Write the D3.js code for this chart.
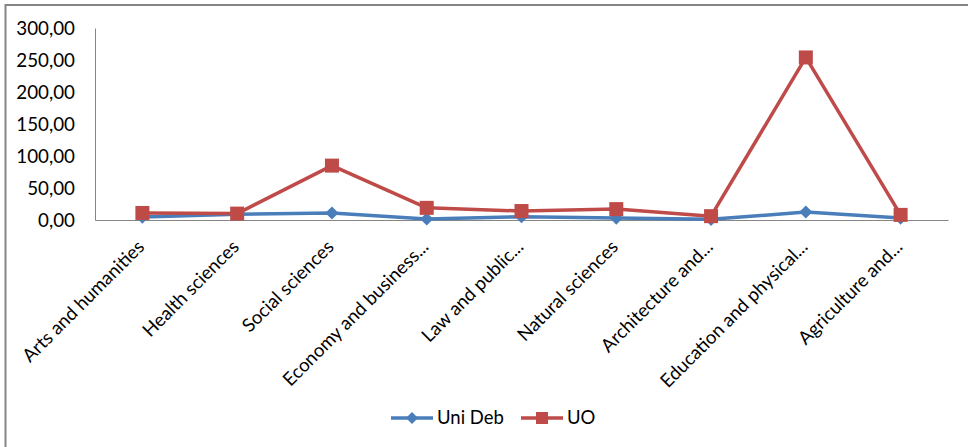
<!DOCTYPE html>
<html><head><meta charset="utf-8">
<script src="https://d3js.org/d3.v7.min.js"></script>
<style>body{margin:0;background:#fff}svg{display:block}text{font-family:Lato,"Open Sans",sans-serif;fill:#000}</style>
</head><body><svg id="c" width="968" height="447"></svg>
<script>
const categories = ["Arts and humanities","Health sciences","Social sciences","Economy and business...","Law and public...","Natural sciences","Architecture and...","Education and physical...","Agriculture and..."];
const uniDeb = [4.5, 9, 11, 1.5, 5, 3, 1, 12.5, 3];
const uo = [11, 10, 85, 19, 14, 17, 6, 254, 8];
const yTicks = [0, 50, 100, 150, 200, 250, 300];
const seriesNames = ["Uni Deb", "UO"];
const colors = ["#4a7ebb", "#be4b48"];

const svg = d3.select("#c");
// frame (left and top only)
svg.append("line").attr("x1",5.5).attr("x2",5.5).attr("y1",4).attr("y2",447).attr("stroke","#858585").attr("stroke-width",2);
svg.append("line").attr("x1",5).attr("x2",968).attr("y1",5).attr("y2",5).attr("stroke","#858585").attr("stroke-width",2);

const x = d3.scaleBand().domain(categories).range([95, 948]);
const y = d3.scaleLinear().domain([0, 300]).range([220, 28]);

// y axis
const ya = svg.append("g").attr("transform","translate(95,0)").call(d3.axisLeft(y).tickValues(yTicks).tickSize(0).tickPadding(20).tickFormat(d => d3.format(".2f")(d).replace(".", ",")));
ya.select(".domain").attr("stroke","#868686");
ya.selectAll("text").style("font-size","18.8px").style("font-family","Lato,sans-serif").attr("fill","#000");

// x axis
const xa = svg.append("g").attr("transform","translate(0,220)").call(d3.axisBottom(x).tickSize(0).tickSizeOuter(0));
xa.select(".domain").attr("stroke","#868686");
xa.selectAll("text").style("font-size","18.6px").style("font-family","Lato,sans-serif").attr("fill","#000")
  .attr("text-anchor","end").attr("dy",0).attr("y",0)
  .attr("transform","translate(3,28) rotate(-45)");

const series = [uniDeb, uo];
const line = d3.line().x((d,i) => x(categories[i]) + x.bandwidth()/2).y(d => y(d));
series.forEach((s, k) => {
  svg.append("path").datum(s).attr("d", line).attr("fill","none").attr("stroke",colors[k]).attr("stroke-width",3.5).attr("stroke-linejoin","round");
});
// markers
svg.selectAll(".dia").data(uniDeb).join("path")
  .attr("transform",(d,i)=>`translate(${x(categories[i])+x.bandwidth()/2},${y(d)})`)
  .attr("d", d3.symbol().type(d3.symbolDiamond2).size(110)).attr("fill",colors[0]);
svg.selectAll(".sq").data(uo).join("rect")
  .attr("x",(d,i)=>x(categories[i])+x.bandwidth()/2-7).attr("y",d=>y(d)-7)
  .attr("width",14).attr("height",14).attr("fill",colors[1]);

// legend
const leg = [{x:391, tx:437}, {x:521, tx:567}];
seriesNames.forEach((n,k) => {
  const g = svg.append("g");
  g.append("line").attr("x1",leg[k].x).attr("x2",leg[k].x+42).attr("y1",418).attr("y2",418).attr("stroke",colors[k]).attr("stroke-width",3.5);
  if (k===0) g.append("path").attr("transform",`translate(${leg[k].x+21},418)`).attr("d",d3.symbol().type(d3.symbolDiamond2).size(90)).attr("fill",colors[k]);
  else g.append("rect").attr("x",leg[k].x+21-6).attr("y",412).attr("width",12).attr("height",12).attr("fill",colors[k]);
  g.append("text").attr("x",leg[k].tx).attr("y",418).attr("dy","0.35em").style("font-size","18.5px").text(n);
});
</script></body></html>
